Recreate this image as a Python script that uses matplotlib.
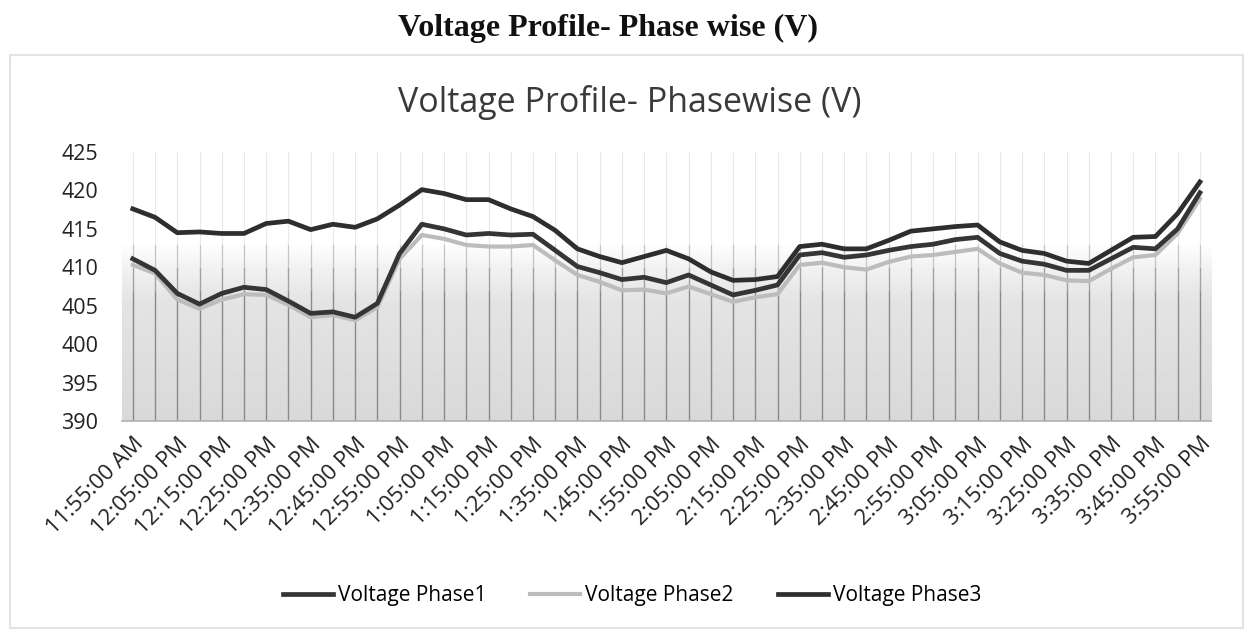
import numpy as np
import matplotlib
matplotlib.use("Agg")
import matplotlib.pyplot as plt
from matplotlib.patches import Rectangle

# ---- data ----
times = ["11:55:00 AM", "12:00:00 PM", "12:05:00 PM", "12:10:00 PM", "12:15:00 PM",
         "12:20:00 PM", "12:25:00 PM", "12:30:00 PM", "12:35:00 PM", "12:40:00 PM",
         "12:45:00 PM", "12:50:00 PM", "12:55:00 PM", "1:00:00 PM", "1:05:00 PM",
         "1:10:00 PM", "1:15:00 PM", "1:20:00 PM", "1:25:00 PM", "1:30:00 PM",
         "1:35:00 PM", "1:40:00 PM", "1:45:00 PM", "1:50:00 PM", "1:55:00 PM",
         "2:00:00 PM", "2:05:00 PM", "2:10:00 PM", "2:15:00 PM", "2:20:00 PM",
         "2:25:00 PM", "2:30:00 PM", "2:35:00 PM", "2:40:00 PM", "2:45:00 PM",
         "2:50:00 PM", "2:55:00 PM", "3:00:00 PM", "3:05:00 PM", "3:10:00 PM",
         "3:15:00 PM", "3:20:00 PM", "3:25:00 PM", "3:30:00 PM", "3:35:00 PM",
         "3:40:00 PM", "3:45:00 PM", "3:50:00 PM", "3:55:00 PM"]

phase1 = [411.1, 409.6, 406.6, 405.2, 406.6, 407.4, 407.1, 405.6, 404.0, 404.2,
          403.5, 405.3, 411.8, 415.6, 415.0, 414.2, 414.4, 414.2, 414.3, 412.2,
          410.1, 409.3, 408.4, 408.7, 408.0, 409.0, 407.7, 406.4, 407.0, 407.7,
          411.6, 411.9, 411.3, 411.6, 412.2, 412.7, 413.0, 413.6, 413.9, 411.8,
          410.8, 410.4, 409.6, 409.6, 411.1, 412.6, 412.4, 415.0, 419.7]

phase2 = [410.3, 409.2, 405.8, 404.6, 405.8, 406.5, 406.4, 405.1, 403.5, 403.8,
          403.1, 404.8, 411.1, 414.2, 413.7, 412.9, 412.7, 412.7, 412.9, 410.9,
          409.0, 408.1, 407.0, 407.1, 406.6, 407.5, 406.5, 405.5, 406.1, 406.5,
          410.3, 410.6, 410.0, 409.7, 410.7, 411.4, 411.6, 412.0, 412.4, 410.5,
          409.3, 409.0, 408.3, 408.2, 409.8, 411.3, 411.6, 414.4, 418.9]

phase3 = [417.6, 416.5, 414.5, 414.6, 414.4, 414.4, 415.7, 416.0, 414.9, 415.6,
          415.2, 416.3, 418.1, 420.1, 419.6, 418.8, 418.8, 417.6, 416.6, 414.8,
          412.4, 411.4, 410.6, 411.4, 412.2, 411.1, 409.4, 408.3, 408.4, 408.8,
          412.7, 413.0, 412.4, 412.4, 413.5, 414.7, 415.0, 415.3, 415.5, 413.3,
          412.2, 411.8, 410.8, 410.5, 412.2, 413.9, 414.0, 417.0, 421.1]

yticks = [390, 395, 400, 405, 410, 415, 420, 425]

W, H = 1248, 636
fig = plt.figure(figsize=(W / 100, H / 100), dpi=100)
fig.patch.set_facecolor("white")

# faint chart border
fig.add_artist(Rectangle((10 / W, 1 - 628 / H), (1243 - 10) / W, (628 - 55) / H,
                         transform=fig.transFigure, fill=False,
                         edgecolor="#e3e3e3", linewidth=1.5))

# titles
fig.text(608 / W, 1 - 28 / H, "Voltage Profile- Phase wise (V)",
         family="Liberation Serif", fontweight="bold", fontsize=23,
         ha="center", va="center", color="#111111")
fig.text(630 / W, 1 - 103 / H, "Voltage Profile- Phasewise (V)",
         family="Open Sans", fontsize=24.5, ha="center", va="center",
         color="#3a3a3a")

left, right = 121.7 / W, 1211 / W
bottom, top = 1 - 421 / H, 1 - 152 / H
ax = fig.add_axes([left, bottom, right - left, top - bottom])

n = len(times)
x = np.arange(n)
ax.set_xlim(-0.5, n - 0.5)
ax.set_ylim(390, 425)

# background gradient: white upper part, light gray lower part
t = np.linspace(0, 1, 400)
col = np.where(t < 0.42, 0.85 + 0.04 * (t / 0.42),
               np.where(t < 0.66, 0.89 + 0.11 * ((t - 0.42) / 0.24) ** 1.3, 1.0))
img = np.repeat(col[:, None], 2, axis=1)
ax.imshow(img, extent=(-0.5, n - 0.5, 390, 425), origin="lower", aspect="auto",
          cmap="gray", vmin=0, vmax=1, zorder=0, interpolation="bilinear")

# vertical gridlines at each category (strong in the shaded part, fading above)
ax.vlines(x, 390, 407, color="#8a8a8a", linewidth=1.0, zorder=1)
ax.vlines(x, 407, 410, color="#a2a2a2", linewidth=1.0, zorder=1)
ax.vlines(x, 410, 413, color="#c4c4c4", linewidth=0.9, zorder=1)
ax.vlines(x, 413, 425, color="#e8e8e8", linewidth=0.8, zorder=1)

ax.plot(x, phase2, color="#bcbcbc", linewidth=3.0, zorder=3, label="Voltage Phase2")
ax.plot(x, phase1, color="#353535", linewidth=3.4, zorder=4, label="Voltage Phase1")
ax.plot(x, phase3, color="#2e2e2e", linewidth=3.4, zorder=4, label="Voltage Phase3")

for s in ["top", "right", "left"]:
    ax.spines[s].set_visible(False)
ax.spines["bottom"].set_color("#b0b0b0")
ax.spines["bottom"].set_linewidth(1.2)

ax.set_yticks(yticks)
ax.set_yticklabels([str(v) for v in yticks], family="Open Sans", fontsize=15.5,
                   color="#222222")
ax.tick_params(axis="y", length=0, pad=17)

ax.set_xticks(x[::2])
ax.set_xticklabels(times[::2], rotation=45, ha="right", rotation_mode="anchor",
                   family="Open Sans", fontsize=16, color="#222222")
ax.tick_params(axis="x", length=0, pad=9)

handles, labels = ax.get_legend_handles_labels()
order = [1, 0, 2]
fig.legend([handles[i] for i in order], [labels[i] for i in order],
           loc="center", bbox_to_anchor=(632 / W, 1 - 596 / H), ncol=3,
           frameon=False, prop={"family": "Open Sans", "size": 15},
           handlelength=2.4, columnspacing=2.1, handletextpad=0.25)

fig.savefig("out.png", dpi=100)
